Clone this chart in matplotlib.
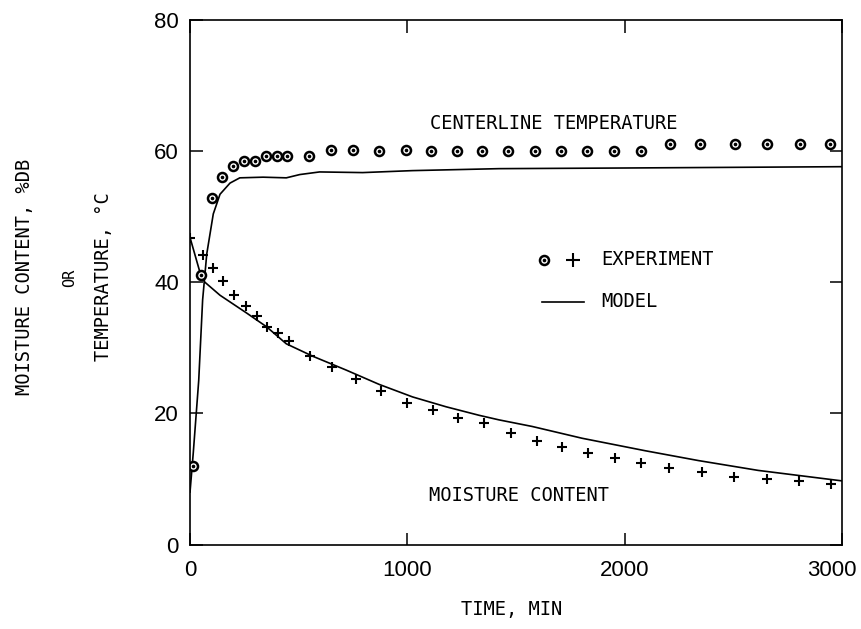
import matplotlib
matplotlib.use("Agg")
import matplotlib.pyplot as plt
import matplotlib.transforms as mtrans

# centerline temperature, experiment (circles)
temp_exp_t = [14, 49, 99, 148, 198, 249, 300, 348, 398, 446, 548, 647, 752, 871, 992,
              1111, 1229, 1345, 1464, 1585, 1708, 1827, 1951, 2074, 2207, 2348, 2507,
              2655, 2808, 2946]
temp_exp_v = [12.0, 41.1, 52.8, 56.1, 57.7, 58.5, 58.4, 59.3, 59.3, 59.3, 59.3, 60.1,
              60.1, 60.0, 60.1, 60.0, 60.0, 60.0, 60.0, 60.0, 60.0, 60.0, 60.0, 60.0,
              61.0, 61.0, 61.0, 61.0, 61.0, 61.0]

# moisture content, experiment (plus signs)
moist_exp_t = [0, 58, 107, 153, 203, 256, 306, 356, 405, 454, 554, 653, 765, 879, 998,
               1116, 1235, 1354, 1475, 1597, 1712, 1831, 1954, 2073, 2204, 2354, 2504,
               2654, 2802, 2950]
moist_exp_v = [46.8, 44.2, 42.1, 40.1, 38.0, 36.4, 34.8, 33.2, 32.2, 31.0, 28.7, 27.1,
               25.2, 23.4, 21.6, 20.5, 19.3, 18.5, 17.0, 15.8, 14.9, 14.0, 13.2, 12.5,
               11.7, 11.0, 10.3, 10.0, 9.7, 9.2]

# model curves
temp_mod_t = [0, 15, 40, 58, 77, 107, 138, 184, 229, 336, 443, 505, 596, 794, 1023,
              1422, 2000, 2500, 3000]
temp_mod_v = [8.0, 14.0, 25.0, 37.3, 44.3, 50.4, 53.4, 55.1, 55.9, 56.0, 55.9, 56.4,
              56.8, 56.7, 57.0, 57.3, 57.4, 57.5, 57.6]

moist_mod_t = [0, 50, 68, 138, 260, 352, 443, 565, 718, 871, 1024, 1178, 1330, 1422,
               1574, 1804, 2094, 2339, 2614, 3000]
moist_mod_v = [46.8, 41.0, 40.0, 38.0, 35.3, 33.2, 30.6, 28.7, 26.6, 24.4, 22.5, 21.0,
               19.7, 19.0, 18.0, 16.2, 14.3, 12.8, 11.3, 9.7]

num_font = "Liberation Sans"
txt_font = "DejaVu Sans Mono"

fig = plt.figure(figsize=(8.61, 6.29), dpi=100)
ax = fig.add_axes([0.2207, 0.1343, 0.7573, 0.8343])

ax.plot(temp_mod_t, temp_mod_v, color="black", lw=1.2)
ax.plot(moist_mod_t, moist_mod_v, color="black", lw=1.2)
ax.plot(moist_exp_t, moist_exp_v, ls="none", marker="+", ms=7, mew=1.5, color="black")
ax.plot(temp_exp_t, temp_exp_v, ls="none", marker="o", ms=6.5, mew=1.8,
        mfc="white", mec="black")
ax.plot(temp_exp_t, temp_exp_v, ls="none", marker="o", ms=1.6, color="black")

ax.set_xlim(0, 3000)
ax.set_ylim(0, 80)
ax.set_xticks([0, 1000, 2000, 3000])
ax.set_yticks([0, 20, 40, 60, 80])
ax.tick_params(direction="in", length=9, width=1.1, top=True, right=True,
               labelsize=16)
ax.tick_params(axis="x", pad=11)
ax.tick_params(axis="y", pad=8)
for lab in ax.get_xticklabels() + ax.get_yticklabels():
    lab.set_family(num_font)
# last x label sits a bit left of its tick, like in the original
last = ax.get_xticklabels()[-1]
last.set_transform(last.get_transform()
                   + mtrans.ScaledTranslation(-7 / 72, 0, fig.dpi_scale_trans))
for s in ax.spines.values():
    s.set_linewidth(1.2)

# curve labels
ax.text(1674, 64.2, "CENTERLINE TEMPERATURE", family=txt_font, fontsize=13.5,
        ha="center", va="center")
ax.text(1514, 7.5, "MOISTURE CONTENT", family=txt_font, fontsize=13.5,
        ha="center", va="center")

# hand drawn legend
ax.plot([1628], [43.4], ls="none", marker="o", ms=6.5, mew=1.8, mfc="white", mec="black")
ax.plot([1628], [43.4], ls="none", marker="o", ms=1.6, color="black")
ax.plot([1761], [43.4], ls="none", marker="+", ms=10, mew=1.5, color="black")
ax.text(1894, 43.4, "EXPERIMENT", family=txt_font, fontsize=13.5, ha="left", va="center")
ax.plot([1619, 1812], [37.0, 37.0], color="black", lw=1.2)
ax.text(1894, 37.0, "MODEL", family=txt_font, fontsize=13.5, ha="left", va="center")

# axis titles
fig.text(512 / 861, 1 - 609 / 629, "TIME, MIN", family=txt_font, fontsize=13.5,
         ha="center", va="center")
fig.text(25 / 861, 1 - 277 / 629, "MOISTURE CONTENT, %DB", family=txt_font,
         fontsize=13.5, rotation=90, ha="center", va="center")
fig.text(70 / 861, 1 - 278 / 629, "OR", family=txt_font, fontsize=11,
         rotation=90, ha="center", va="center")
fig.text(103 / 861, 1 - 277 / 629, "TEMPERATURE, °C", family=txt_font,
         fontsize=13.5, rotation=90, ha="center", va="center")

fig.savefig("out.png", dpi=100)
